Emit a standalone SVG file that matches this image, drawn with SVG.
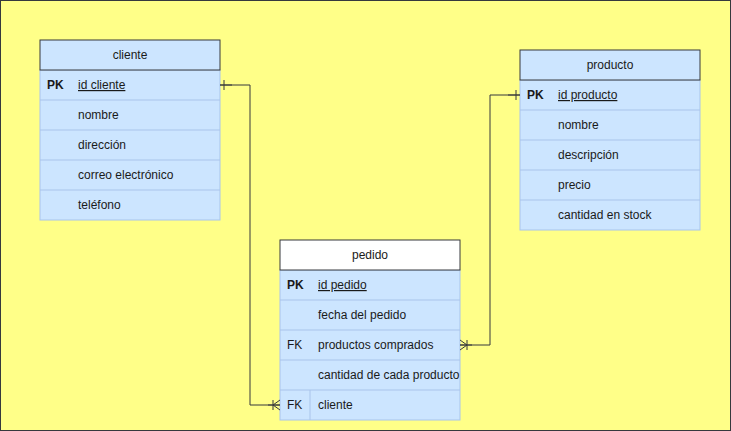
<svg xmlns="http://www.w3.org/2000/svg" width="731" height="431" viewBox="0 0 731 431">
<defs>
<style>
text{font-family:"Liberation Sans",Arial,sans-serif;font-size:12px;fill:#1a1a1a;}
.t{text-anchor:middle;}
.k{font-weight:bold;}
.u{text-decoration:underline;}
.hdr{stroke:#36393d;stroke-width:1;}
.body{fill:#cce5ff;stroke:#a9c4eb;stroke-width:1;}
.sep{stroke:#a9c4eb;stroke-width:1;fill:none;}
.con{fill:none;stroke:#36393d;stroke-width:1;}
</style>
<marker id="one" markerWidth="12" markerHeight="12" refX="12" refY="6" orient="auto-start-reverse" markerUnits="userSpaceOnUse" viewBox="0 0 12 12">
<path d="M0,6 H12 M8,1 V11" fill="none" stroke="#36393d" stroke-width="1"/>
</marker>
<marker id="many" markerWidth="12" markerHeight="12" refX="12" refY="6" orient="auto-start-reverse" markerUnits="userSpaceOnUse" viewBox="0 0 12 12">
<path d="M0,6 H12 M5,1 V11 M5,6 L12,1 M5,6 L12,11" fill="none" stroke="#36393d" stroke-width="1"/>
</marker>
</defs>
<rect x="0.5" y="0.5" width="730" height="430" fill="#ffff88" stroke="#36393d"/>

<g id="cliente">
<rect class="body" x="40" y="70" width="180" height="150"/>
<rect class="hdr" x="40" y="40" width="180" height="30" fill="#cce5ff"/>
<path class="sep" d="M40,100H220M40,130H220M40,160H220M40,190H220"/>
<text class="t" x="130" y="59">cliente</text>
<text class="k" x="47" y="89">PK</text>
<text class="u" x="78" y="89">id cliente</text>
<text x="78" y="119">nombre</text>
<text x="78" y="149">dirección</text>
<text x="78" y="179">correo electrónico</text>
<text x="78" y="209">teléfono</text>
</g>

<g id="producto">
<rect class="body" x="520" y="80" width="180" height="150"/>
<rect class="hdr" x="520" y="50" width="180" height="30" fill="#cce5ff"/>
<path class="sep" d="M520,110H700M520,140H700M520,170H700M520,200H700"/>
<text class="t" x="610" y="69">producto</text>
<text class="k" x="527" y="99">PK</text>
<text class="u" x="558" y="99">id producto</text>
<text x="558" y="129">nombre</text>
<text x="558" y="159">descripción</text>
<text x="558" y="189">precio</text>
<text x="558" y="219">cantidad en stock</text>
</g>

<g id="pedido">
<rect class="body" x="280" y="270" width="180" height="150" stroke="#7f8fa6"/>
<rect class="hdr" x="280" y="240" width="180" height="30" fill="#ffffff"/>
<path class="sep" d="M280,300H460M280,330H460M280,360H460M280,390H460M310,390V420"/>
<text class="t" x="370" y="259">pedido</text>
<text class="k" x="287" y="289">PK</text>
<text class="u" x="318" y="289">id pedido</text>
<text x="318" y="319">fecha del pedido</text>
<text x="287" y="349">FK</text>
<text x="318" y="349">productos comprados</text>
<text x="318" y="379">cantidad de cada producto</text>
<text x="287" y="409">FK</text>
<text x="318" y="409">cliente</text>
</g>

<g id="connectors">
<path class="con" d="M220,85H250V405H280" marker-start="url(#one)" marker-end="url(#many)"/>
<path class="con" d="M460,345H490V95H520" marker-start="url(#many)" marker-end="url(#one)"/>
</g>
</svg>
